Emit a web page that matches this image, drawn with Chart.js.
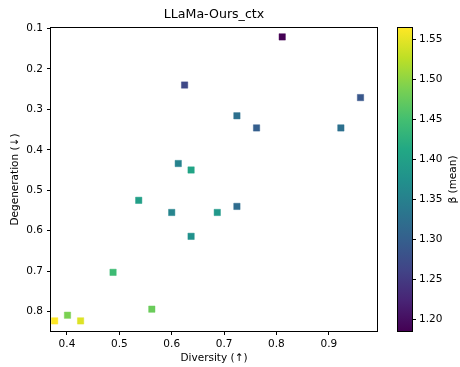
<!DOCTYPE html>
<html>
<head>
<meta charset="utf-8">
<script src="https://cdn.jsdelivr.net/npm/chart.js@4"></script>
<style>
  body { margin: 0; background: white; }
  #wrap { position: relative; width: 460px; height: 367px; }
  #wrap canvas { position: absolute; left: 0; top: 0; }
</style>
</head>
<body>
<div id="wrap">
  <canvas id="main" width="460" height="367"></canvas>
  <canvas id="cbar" width="460" height="367"></canvas>
</div>
<script>
  const chartTitle = 'LLaMa-Ours_ctx'
  const xLabel = 'Diversity (↑)'
  const yLabel = 'Degeneration (↓)'
  const cbLabel = 'β (mean)'

  const diversity = [0.811, 0.9605, 0.6246, 0.7245, 0.762, 0.923, 0.6125, 0.637, 0.537, 0.600, 0.687, 0.7245, 0.637, 0.488, 0.562, 0.401, 0.3765, 0.426]
  const degeneration = [0.121, 0.271, 0.240, 0.316, 0.346, 0.346, 0.434, 0.450, 0.525, 0.555, 0.555, 0.540, 0.614, 0.703, 0.794, 0.809, 0.823, 0.823]
  const beta = [1.185, 1.287, 1.268, 1.325, 1.299, 1.325, 1.352, 1.405, 1.397, 1.355, 1.386, 1.32, 1.375, 1.443, 1.477, 1.488, 1.564, 1.545]

  const xTicks = [0.4, 0.5, 0.6, 0.7, 0.8, 0.9]
  const yTicks = [0.1, 0.2, 0.3, 0.4, 0.5, 0.6, 0.7, 0.8]
  const cbTicks = [1.20, 1.25, 1.30, 1.35, 1.40, 1.45, 1.50, 1.55]

  const cbMin = Math.min(...beta)
  const cbMax = Math.max(...beta)

  // viridis anchor colours, t = 0, 0.1, ... 1
  const viridisStops = ['#440154', '#482475', '#414487', '#355f8d', '#2a788e', '#21918c', '#22a884', '#44bf70', '#7ad151', '#bddf26', '#fde725']

  function hexRgb(h) {
    return [parseInt(h.slice(1, 3), 16), parseInt(h.slice(3, 5), 16), parseInt(h.slice(5, 7), 16)]
  }
  function viridis(t, alpha) {
    t = Math.max(0, Math.min(1, t))
    const p = t * (viridisStops.length - 1)
    const i = Math.min(Math.floor(p), viridisStops.length - 2)
    const f = p - i
    const a = hexRgb(viridisStops[i]), b = hexRgb(viridisStops[i + 1])
    const c = a.map((v, k) => Math.round(v + (b[k] - v) * f))
    return `rgba(${c[0]}, ${c[1]}, ${c[2]}, ${alpha === undefined ? 1 : alpha})`
  }

  Chart.defaults.font.family = 'DejaVu Sans'
  Chart.defaults.font.size = 10.5
  Chart.defaults.color = '#000'

  const points = diversity.map((x, i) => ({ x: x, y: degeneration[i] }))
  const fills = beta.map(b => viridis((b - cbMin) / (cbMax - cbMin)))
  const edges = beta.map(b => viridis((b - cbMin) / (cbMax - cbMin), 0.45))

  const frame = {
    id: 'frame',
    afterDatasetsDraw(chart) {
      const a = chart.chartArea
      const ctx = chart.ctx
      ctx.save()
      ctx.strokeStyle = '#000'
      ctx.lineWidth = 1
      ctx.strokeRect(Math.round(a.left) - 0.5, Math.round(a.top) - 0.5, Math.round(a.right - a.left) + 1, Math.round(a.bottom - a.top) + 1)
      ctx.restore()
    }
  }

  const titleText = {
    id: 'titleText',
    afterDraw(chart) {
      const a = chart.chartArea
      const ctx = chart.ctx
      ctx.save()
      ctx.font = '12.6px "DejaVu Sans"'
      ctx.fillStyle = '#000'
      ctx.textAlign = 'center'
      ctx.textBaseline = 'middle'
      ctx.fillText(chartTitle, (a.left + a.right) / 2, 15)
      ctx.restore()
    }
  }

  new Chart(document.getElementById('main'), {
    type: 'scatter',
    data: {
      datasets: [{
        data: points,
        pointStyle: 'rect',
        pointRadius: 4.5,
        pointBackgroundColor: fills,
        pointBorderColor: edges,
        pointBorderWidth: 1
      }]
    },
    options: {
      responsive: false,
      animation: false,
      events: [],
      layout: { padding: { top: 28, right: 83, left: 0, bottom: 0 } },
      plugins: { legend: { display: false }, tooltip: { enabled: false } },
      scales: {
        x: {
          type: 'linear',
          min: 0.3695,
          max: 0.992,
          afterFit: s => { s.height = 36 },
          afterBuildTicks: s => { s.ticks = xTicks.map(v => ({ value: v })) },
          ticks: { callback: v => v.toFixed(1), padding: 3, maxRotation: 0 },
          grid: { drawOnChartArea: false, drawTicks: true, tickLength: 4, color: '#000' },
          border: { display: false },
          title: { display: true, text: xLabel, padding: { top: 0, bottom: 2 } }
        },
        y: {
          type: 'linear',
          reverse: true,
          min: 0.099,
          max: 0.848,
          afterFit: s => { s.width = 51 },
          afterBuildTicks: s => { s.ticks = yTicks.map(v => ({ value: v })) },
          ticks: { callback: v => v.toFixed(1), padding: 4 },
          grid: { drawOnChartArea: false, drawTicks: true, tickLength: 4, color: '#000' },
          border: { display: false },
          title: { display: true, text: yLabel, padding: { top: 9, bottom: 0 } }
        }
      }
    },
    plugins: [frame, titleText]
  })

  const cbText = {
    id: 'cbText',
    afterDraw(chart) {
      const a = chart.chartArea
      const ctx = chart.ctx
      ctx.save()
      ctx.font = '10.5px "DejaVu Sans"'
      ctx.fillStyle = '#000'
      ctx.textAlign = 'center'
      ctx.textBaseline = 'middle'
      ctx.translate(453, (a.top + a.bottom) / 2)
      ctx.rotate(-Math.PI / 2)
      ctx.fillText(cbLabel, 0, 0)
      ctx.restore()
    }
  }

  new Chart(document.getElementById('cbar'), {
    type: 'bar',
    data: {
      labels: [''],
      datasets: [{
        data: [[cbMin, cbMax]],
        barPercentage: 1,
        categoryPercentage: 1,
        borderWidth: 0,
        borderSkipped: false,
        backgroundColor: c => {
          const a = c.chart.chartArea
          if (!a) return '#888'
          const g = c.chart.ctx.createLinearGradient(0, a.bottom, 0, a.top)
          viridisStops.forEach((col, i) => g.addColorStop(i / (viridisStops.length - 1), col))
          return g
        }
      }]
    },
    options: {
      responsive: false,
      animation: false,
      events: [],
      layout: { padding: { top: 28, right: 0, left: 398, bottom: 36 } },
      plugins: { legend: { display: false }, tooltip: { enabled: false } },
      scales: {
        x: { display: false },
        y: {
          position: 'right',
          min: cbMin,
          max: cbMax,
          afterFit: s => { s.width = 48 },
          afterBuildTicks: s => { s.ticks = cbTicks.map(v => ({ value: v })) },
          ticks: { callback: v => v.toFixed(2), padding: 3 },
          grid: { drawOnChartArea: false, drawTicks: true, tickLength: 4, color: '#000' },
          border: { display: false }
        }
      }
    },
    plugins: [frame, cbText]
  })
</script>
</body>
</html>
